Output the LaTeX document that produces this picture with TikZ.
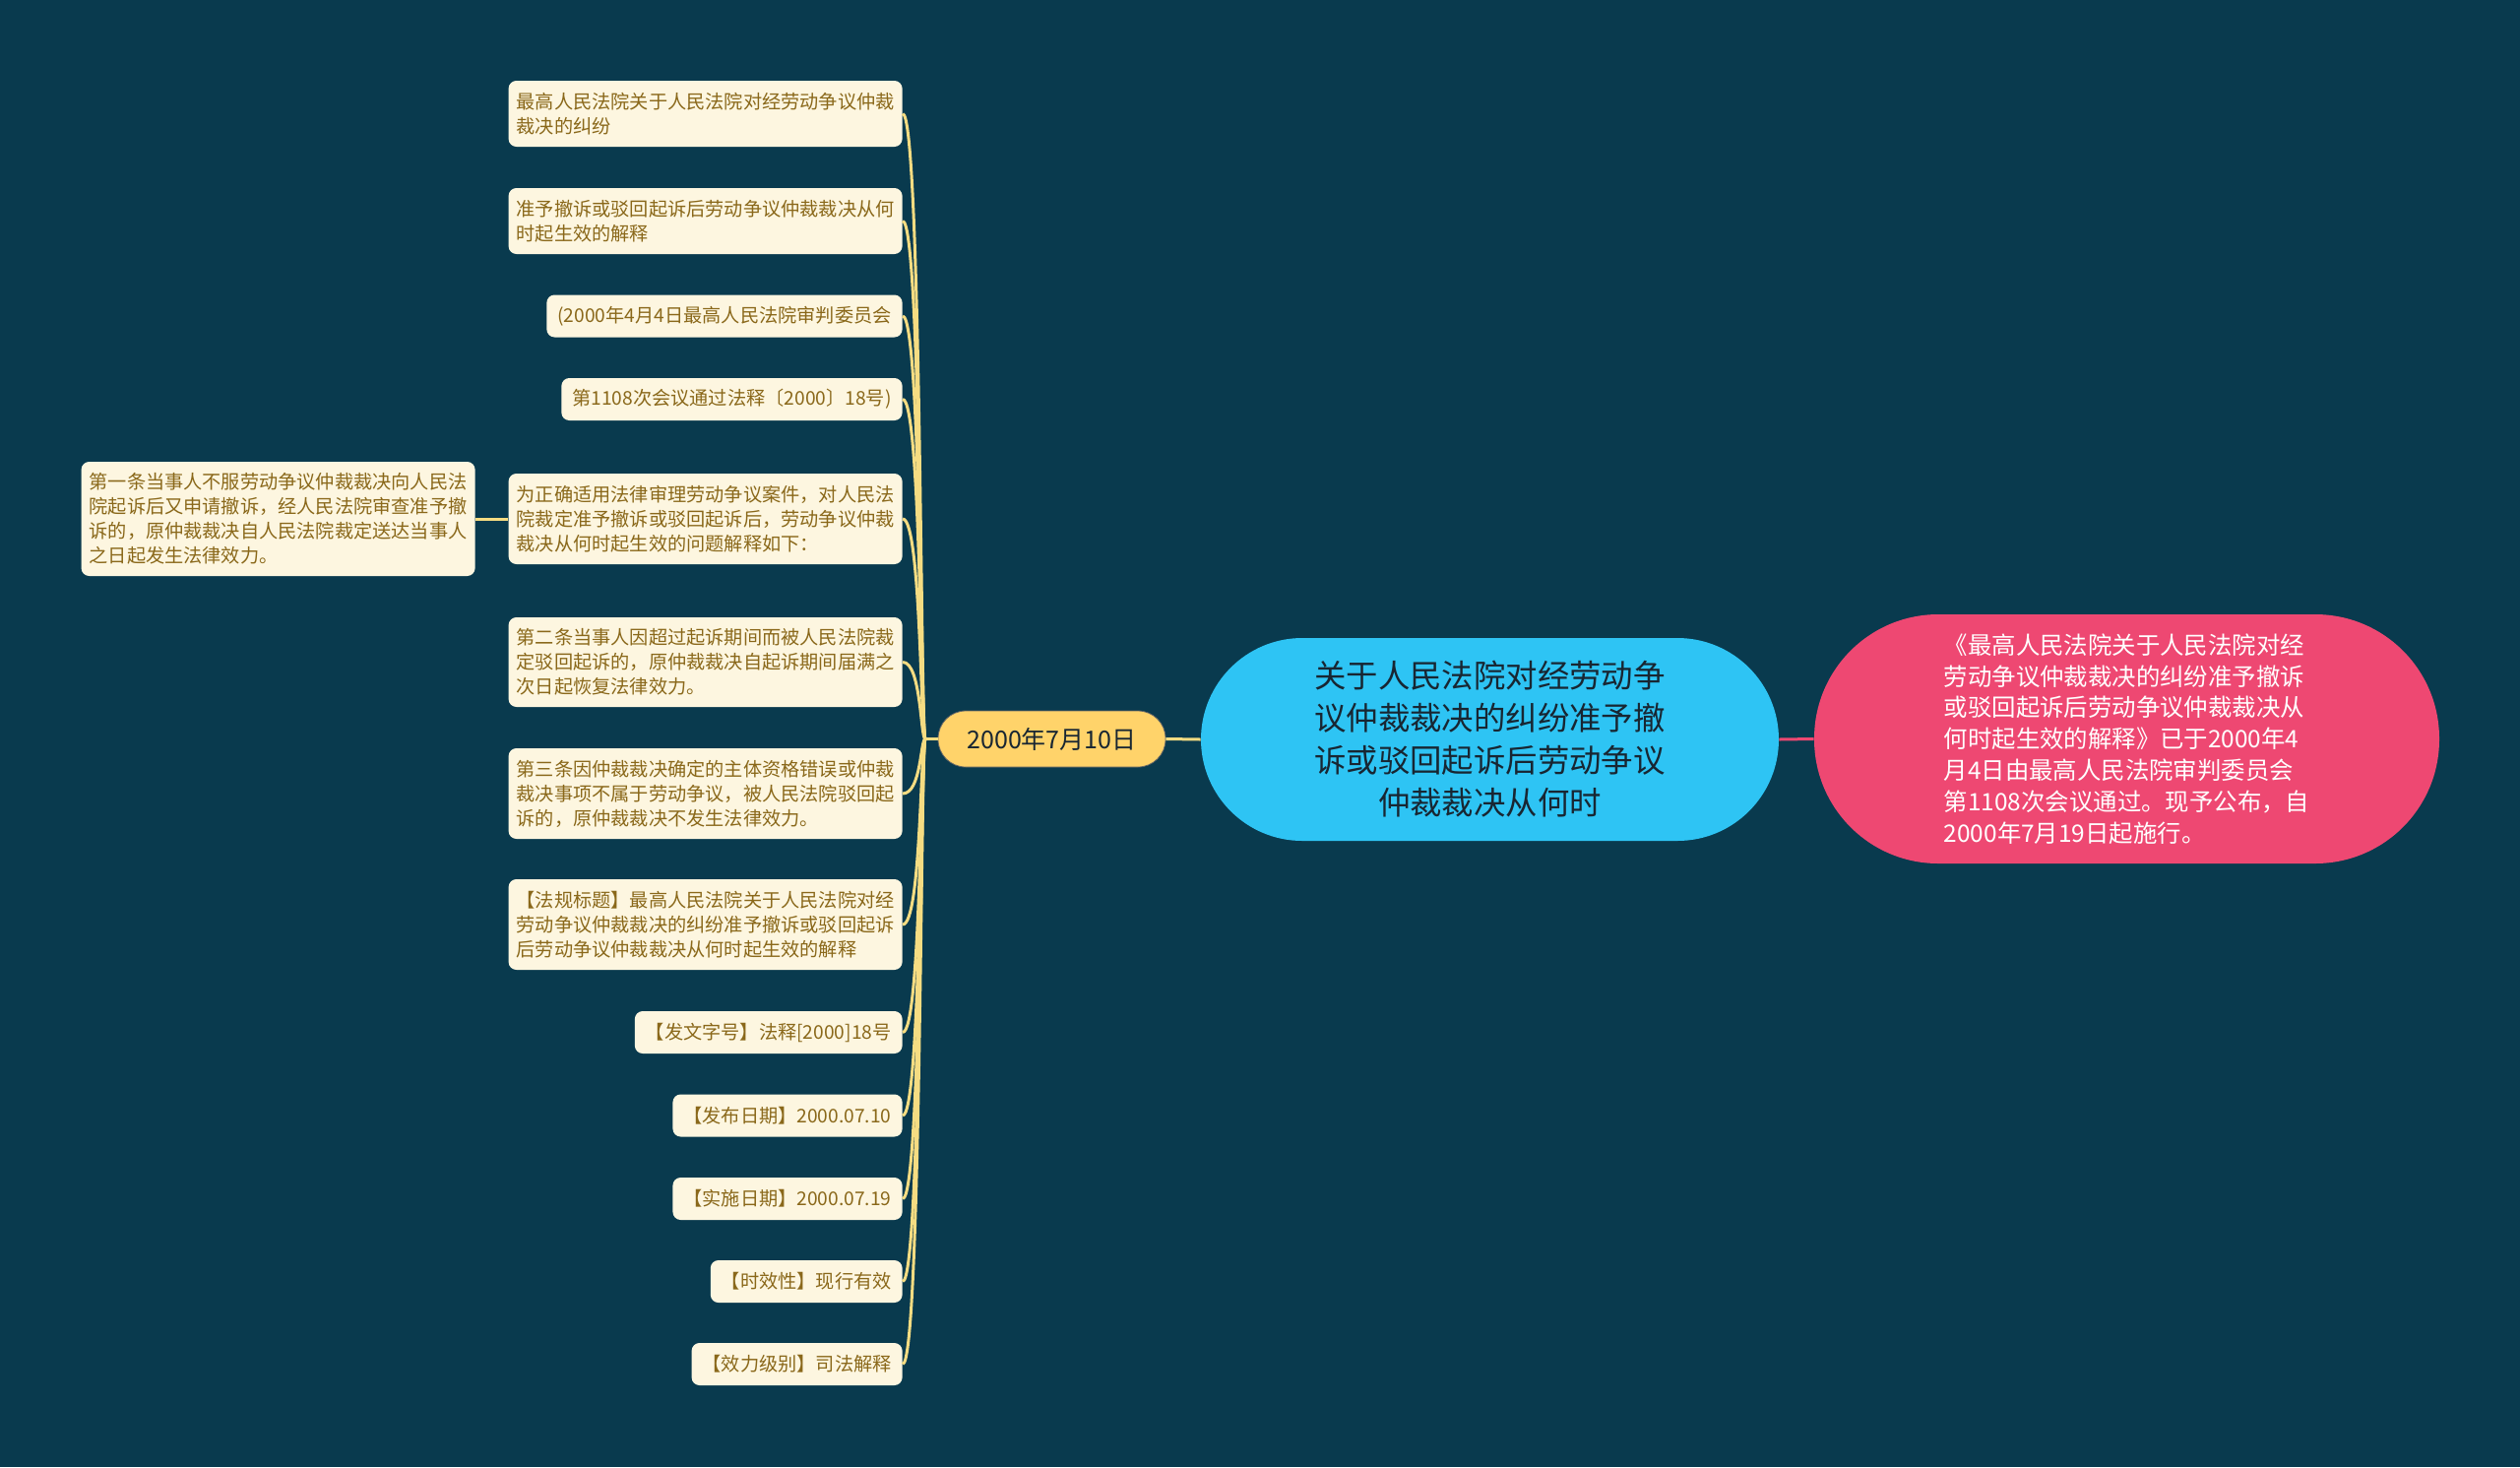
\documentclass[tikz,border=0pt]{standalone}
\usepackage{fontspec}
\setmainfont{Noto Sans CJK SC}
\definecolor{bg}{RGB}{9,58,78}
\definecolor{leaffill}{RGB}{253,246,224}
\definecolor{leaftext}{RGB}{138,104,26}
\definecolor{liney}{RGB}{245,220,130}
\definecolor{datefill}{RGB}{255,211,106}
\definecolor{cenfill}{RGB}{46,196,244}
\definecolor{rfill}{RGB}{238,72,114}
\definecolor{darktext}{RGB}{24,38,50}
\tikzset{
  leaf/.style={fill=leaffill, rounded corners=4pt, text=leaftext,
    font=\fontsize{9.6}{12.5}\selectfont, inner xsep=5.5pt, inner ysep=2pt,
    anchor=east, minimum height=21.5pt},
  leafm/.style={leaf, text width=192pt, align=left, inner xsep=4pt},
  conn/.style={draw=liney, line width=1.5pt},
  pconn/.style={draw=rfill, line width=1.5pt},
}
\begin{document}
\begin{tikzpicture}[x=0.5pt,y=-0.5pt]
\useasboundingbox (0,0) rectangle (2560,1490);
\fill[bg] (0,0) rectangle (2560,1490);

% central nodes
\node[fill=cenfill, rounded corners=51.5pt, minimum width=293.5pt, minimum height=103pt,
  text=darktext, align=center, font=\fontsize{16.2}{21.5}\selectfont, inner sep=0pt]
  (c) at (1513.5,751) {关于人民法院对经劳动争\\议仲裁裁决的纠纷准予撤\\诉或驳回起诉后劳动争议\\仲裁裁决从何时};
\node[fill=datefill, draw=black!60, line width=0.4pt, rounded corners=14pt, minimum width=115.5pt, minimum height=28.5pt,
  text=darktext, font=\fontsize{12.5}{15}\selectfont, inner sep=0pt]
  (d) at (1068.5,750.5) {2000年7月10日};
\node[fill=rfill, rounded corners=63pt, minimum width=317.5pt, minimum height=126.5pt,
  text=white, align=left, font=\fontsize{12.2}{15.9}\selectfont, inner sep=0pt]
  (r) at (2160.5,750.5) {《最高人民法院关于人民法院对经\\劳动争议仲裁裁决的纠纷准予撤诉\\或驳回起诉后劳动争议仲裁裁决从\\何时起生效的解释》已于2000年4\\月4日由最高人民法院审判委员会\\第1108次会议通过。现予公布，自\\2000年7月19日起施行。};

% leaves
\node[leafm, minimum height=33.5pt] (l1) at (917,115.5) {最高人民法院关于人民法院对经劳动争议仲裁\\裁决的纠纷};
\node[leafm, minimum height=33.5pt] (l2) at (917,224.5) {准予撤诉或驳回起诉后劳动争议仲裁裁决从何\\时起生效的解释};
\node[leaf] (l3) at (917,321) {(2000年4月4日最高人民法院审判委员会};
\node[leaf] (l4) at (917,405.5) {第1108次会议通过法释〔2000〕18号)};
\node[leafm, minimum height=46pt] (l5) at (917,527) {为正确适用法律审理劳动争议案件，对人民法\\院裁定准予撤诉或驳回起诉后，劳动争议仲裁\\裁决从何时起生效的问题解释如下：};
\node[leafm, minimum height=45.5pt] (l6) at (917,672.5) {第二条当事人因超过起诉期间而被人民法院裁\\定驳回起诉的，原仲裁裁决自起诉期间届满之\\次日起恢复法律效力。};
\node[leafm, minimum height=46pt] (l7) at (917,806) {第三条因仲裁裁决确定的主体资格错误或仲裁\\裁决事项不属于劳动争议，被人民法院驳回起\\诉的，原仲裁裁决不发生法律效力。};
\node[leafm, minimum height=46pt] (l8) at (917,939) {【法规标题】最高人民法院关于人民法院对经\\劳动争议仲裁裁决的纠纷准予撤诉或驳回起诉\\后劳动争议仲裁裁决从何时起生效的解释};
\node[leaf] (l9) at (917,1048.5) {【发文字号】法释[2000]18号};
\node[leaf] (l10) at (917,1133) {【发布日期】2000.07.10};
\node[leaf] (l11) at (917,1217.5) {【实施日期】2000.07.19};
\node[leaf] (l12) at (917,1301.5) {【时效性】现行有效};
\node[leaf] (l13) at (917,1385.5) {【效力级别】司法解释};

\node[leafm, minimum height=58pt] (a1) at (483,527) {第一条当事人不服劳动争议仲裁裁决向人民法\\院起诉后又申请撤诉，经人民法院审查准予撤\\诉的，原仲裁裁决自人民法院裁定送达当事人\\之日起发生法律效力。};

% connectors
\coordinate (j) at (940,750.5);
\draw[conn] (c.west) -- (d.east);
\draw[pconn] (c.east) -- (r.west);
\draw[conn] (d.west) -- (j);
\foreach \n in {l1,l2,l3,l4,l5,l6,l7,l8,l9,l10,l11,l12,l13}{
  \draw[conn] (\n.east) .. controls +(19,0) and +(-5,0) .. (j);
}
\draw[conn] (l5.west) -- (a1.east);
\end{tikzpicture}
\end{document}
